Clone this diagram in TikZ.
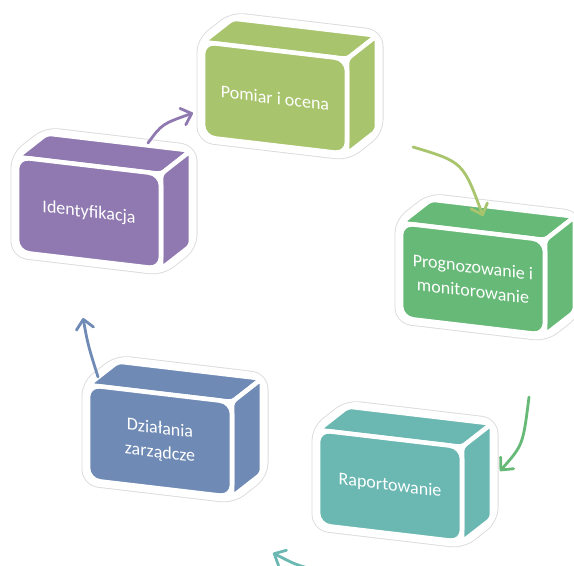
\documentclass[tikz,border=0pt]{standalone}
\usepackage{fontspec}
\setmainfont{Carlito}
\usetikzlibrary{arrows.meta}
\definecolor{pomiarG}{RGB}{168,196,108}
\definecolor{prognoG}{RGB}{102,185,118}
\definecolor{raportG}{RGB}{107,184,178}
\definecolor{dzialB}{RGB}{111,139,181}
\definecolor{identP}{RGB}{143,121,176}
\tikzset{
    kontur/.style={line width=9.75pt, draw=black!14, fill=white, line join=round, rounded corners=8pt},
    biel/.style={line width=8.4pt, draw=white, line join=round, rounded corners=8pt},
    sciana/.style={fill=#1, draw=white, line width=3.4pt, line join=round, rounded corners=3pt},
    napis/.style={text=white, font=\fontsize{13.5}{18}\selectfont, align=center, inner sep=0pt, transform shape},
    strzalka/.style={draw=#1, line width=2.1pt, line cap=round, -{Straight Barb[round,length=7pt,width=13pt]}},
    pics/kostka/.style 2 args={
        code={
        \begin{scope}[cm={1,-0.118,0,1,(0,0)}]
            \draw[kontur] (0,0) -- (30,27) -- (174,27) -- (174,-68) -- (144,-95) -- (0,-95) -- cycle;
            \draw[biel] (0,0) -- (30,27) -- (174,27) -- (174,-68) -- (144,-95) -- (0,-95) -- cycle;
            \draw[sciana=#1] (0,0) -- (30,27) -- (174,27) -- (144,0) -- cycle;
            \draw[sciana=#1] (144,0) -- (174,27) -- (174,-68) -- (144,-95) -- cycle;
            \draw[sciana=#1, rounded corners=9pt] (0,0) rectangle (144,-95);
            \node[napis] (-t) at (72,-47.5) {#2};
        \end{scope}
        }
    }
}
\begin{document}
\begin{tikzpicture}[x=0.75pt, y=0.75pt]
    \useasboundingbox (0,0) rectangle (574,-565);
    \clip (0,0) rectangle (574,-565);
    % boxes, front-top-left corners
    \pic (pom)   at (203,-42)  {kostka={pomiarG}{Pomiar i ocena}};
    \pic (prog)  at (401,-223) {kostka={prognoG}{Prognozowanie i\\monitorowanie}};
    \pic (rap)   at (318,-430) {kostka={raportG}{Raportowanie}};
    \pic (dzial) at (88,-385)  {kostka={dzialB}{Działania\\zarządcze}};
    \pic (ident) at (17,-157)  {kostka={identP}{Identyfikacja}};
    % arrow ends
    \coordinate (i1) at (148,-143);
    \coordinate (i2) at (193,-113);
    \coordinate (p1) at (413,-147);
    \coordinate (p2) at (483,-216);
    \coordinate (g1) at (529,-397);
    \coordinate (g2) at (500,-471);
    \coordinate (r1) at (336,-573);
    \coordinate (r2) at (273,-553);
    \coordinate (d1) at (98,-377);
    \coordinate (d2) at (83,-318);
    \draw[strzalka=identP] (i1) .. controls (162,-124) .. (i2);
    \draw[strzalka=pomiarG] (p1) .. controls (463,-162) .. (p2);
    \draw[strzalka=prognoG] (g1) .. controls (523,-445) .. (g2);
    \draw[strzalka=raportG] (r1) .. controls (300,-567) .. (r2);
    \draw[strzalka=dzialB] (d1) .. controls (88,-345) .. (d2);
\end{tikzpicture}
\end{document}
